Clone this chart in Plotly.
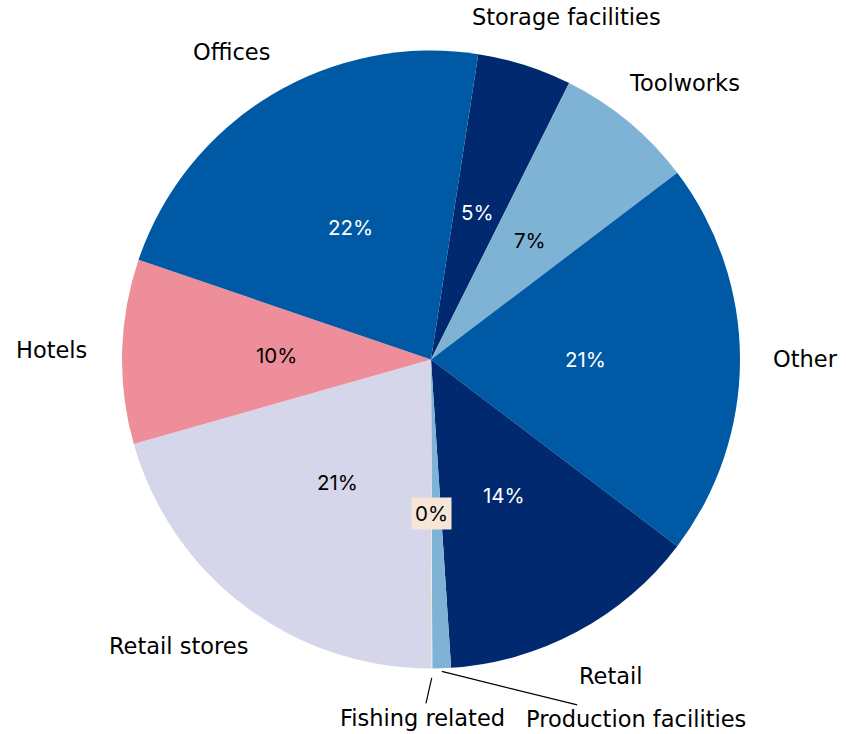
import math
import plotly.graph_objects as go

# Share of buildings by use (percent), listed clockwise from the top
categories = ["Storage facilities", "Toolworks", "Other", "Retail",
              "Production facilities", "Fishing related", "Retail stores",
              "Hotels", "Offices"]
shares = [4.93, 7.30, 20.64, 13.64, 0.97, 0.06, 20.59, 9.64, 22.21]
colors = ["#00296F", "#7FB3D5", "#0059A4", "#00296F",
          "#7FB3D5", "#F6E6D8", "#D5D6EA", "#EE8E9B", "#0059A4"]
pct_text_colors = ["white", "black", "white", "white",
                   "black", "black", "black", "black", "white"]

LABEL_FONT = "DejaVu Sans"
LABEL_FS = 22.5
PCT_FONT = "Inter"
PCT_FS = 20.5
START_ANGLE = 8.8  # degrees clockwise from 12 o'clock

fig = go.Figure(go.Pie(
    labels=categories,
    values=shares,
    sort=False,
    direction="clockwise",
    rotation=START_ANGLE,
    marker=dict(colors=colors, line=dict(width=0)),
    textinfo="none",
    hoverinfo="label+percent",
    showlegend=False,
))

# Plot area is a 618 x 619 px square, so the pie radius is 0.5 in paper units
W, H = 846, 734
ML, MR, MT, MB = 122, 106, 50, 65
PW = W - ML - MR
PH = H - MT - MB
CX, CY, R = 0.5, 0.5, 0.5

total = sum(shares)
mids = []
acc = START_ANGLE
for v in shares:
    span = 360.0 * v / total
    mids.append(acc + span / 2)
    acc += span


def at(theta_deg, dist):
    t = math.radians(theta_deg)
    return CX + dist * R * math.sin(t), CY + dist * R * math.cos(t) * PW / PH


annotations = []

# Percentage labels inside the slices (the two slivers at the bottom share
# one boxed label)
for cat, v, th, tc in zip(categories, shares, mids, pct_text_colors):
    if cat in ("Fishing related", "Production facilities"):
        continue
    x, y = at(th, 0.5)
    annotations.append(dict(
        x=x, y=y, xref="paper", yref="paper", showarrow=False,
        text=f"{round(100 * v / total)}%",
        font=dict(family=PCT_FONT, size=PCT_FS, color=tc),
        xanchor="center", yanchor="middle",
    ))

fi = categories.index("Fishing related")
x, y = at(mids[fi], 0.5)
annotations.append(dict(
    x=x, y=y, xref="paper", yref="paper", showarrow=False,
    text=f"{round(100 * shares[fi] / total)}%",
    font=dict(family=PCT_FONT, size=PCT_FS, color="black"),
    bgcolor=colors[fi], borderpad=3,
    xanchor="center", yanchor="middle",
))

# Category labels around the pie
char_w = 0.5 * LABEL_FS
text_h = 26
callouts = {"Fishing related": (1.03, -9, 40),
            "Production facilities": (1.01, 194, 48)}
for cat, th in zip(categories, mids):
    t = math.radians(th)
    if cat in callouts:
        dist, ax, ay = callouts[cat]
        x, y = at(th, dist)
        annotations.append(dict(
            x=x, y=y, xref="paper", yref="paper",
            text=cat, font=dict(family=LABEL_FONT, size=LABEL_FS, color="black"),
            showarrow=True, arrowhead=0, arrowwidth=1.2, arrowcolor="black",
            ax=ax, ay=ay, standoff=0,
        ))
        continue
    x, y = at(th, 1.12)
    w = char_w * len(cat)
    annotations.append(dict(
        x=x, y=y, xref="paper", yref="paper", showarrow=False,
        text=cat, font=dict(family=LABEL_FONT, size=LABEL_FS, color="black"),
        xanchor="center", yanchor="middle",
        xshift=math.sin(t) * w / 2, yshift=math.cos(t) * text_h / 2,
    ))

fig.update_layout(
    width=W, height=H,
    margin=dict(l=ML, r=MR, t=MT, b=MB),
    paper_bgcolor="white", plot_bgcolor="white",
    annotations=annotations,
    font=dict(family=LABEL_FONT, size=LABEL_FS, color="black"),
)

fig.write_html("out.html")
